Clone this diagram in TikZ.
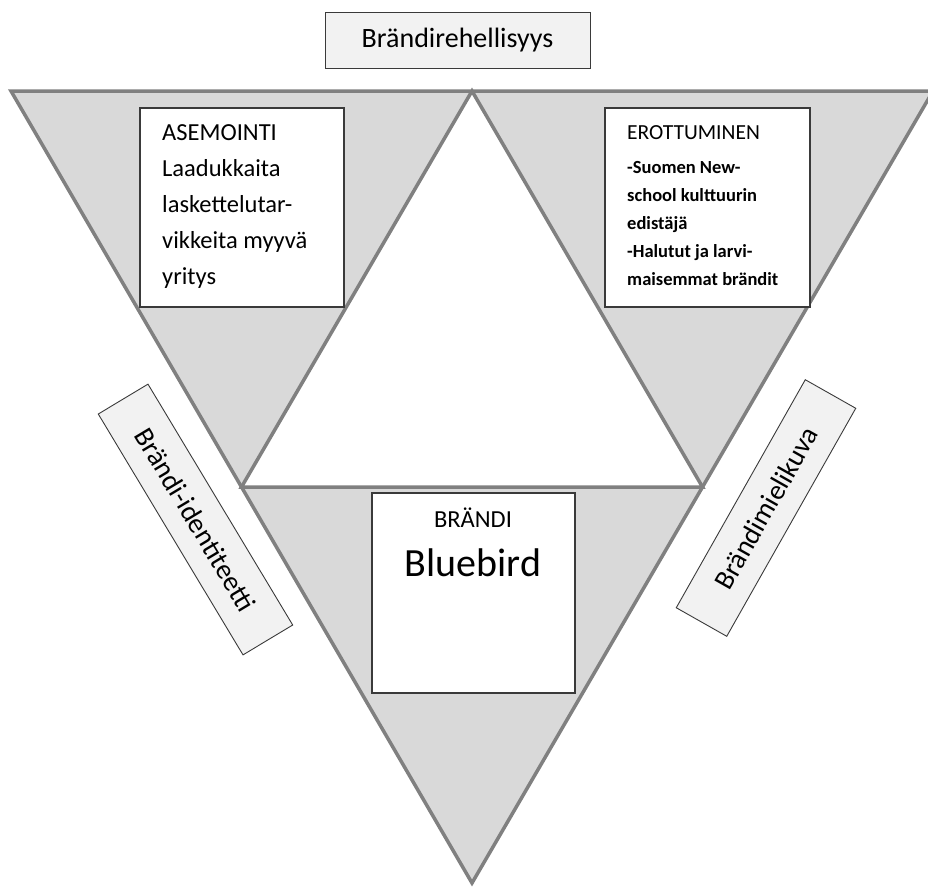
\documentclass[tikz,border=0pt]{standalone}
\usepackage{fontspec}
\setmainfont{Carlito}
\usetikzlibrary{positioning}

\definecolor{zonegray}{HTML}{D9D9D9}
\definecolor{edgegray}{HTML}{808080}
\definecolor{tagfill}{HTML}{F2F2F2}
\definecolor{boxline}{HTML}{3A3A3A}

\begin{document}
\begin{tikzpicture} [x=1pt, y=-1pt,
            zone/.style = {draw=edgegray, line width=3.5pt, fill=zonegray},
            textbox/.style = {draw=boxline, line width=1.6pt, fill=white,
                anchor=north west, inner sep=0pt},
            boxtext/.style = {anchor=north west, inner sep=0pt, align=left},
            tagbox/.style = {draw=boxline, line width=0.9pt, fill=tagfill,
                inner sep=0pt, font=\fontsize{28}{34}\selectfont}]

            \useasboundingbox (0,0) rectangle (928,887);

            % Outer triangle
            \coordinate (tl) at (11,91);
            \coordinate (tr) at (933,91);
            \coordinate (bt) at (472,883);
            \draw [zone] (tl) -- (tr) -- (bt) -- cycle;

            % Inner triangle
            \coordinate (mt) at (472,91);
            \coordinate (ml) at (241.5,487);
            \coordinate (mr) at (702.5,487);
            \draw [zone, fill=white] (mt) -- (ml) -- (mr) -- cycle;

            % Top label
            \node (rehellisyys) [tagbox,
                minimum width=265, minimum height=56] at (457.5,40) {Brändirehellisyys};

            % Positioning box
            \node (asemointi) [textbox,
                minimum width=204, minimum height=199] at (139,107) {};
            \node (asemointi text) [boxtext,
                font=\fontsize{24.5}{36}\selectfont,
                below right=17.5pt and 23pt of asemointi.north west]
                {ASEMOINTI\\Laadukkaita\\laskettelutar-\\vikkeita myyvä\\yritys};

            % Differentiation box
            \node (erottuminen) [textbox,
                minimum width=205, minimum height=199] at (604,107) {};
            \node (erottuminen text) [boxtext,
                font=\fontsize{18.5}{28}\selectfont\bfseries,
                below right=18pt and 23pt of erottuminen.north west]
                {{\mdseries\fontsize{21.5}{28}\selectfont EROTTUMINEN}\\[6pt]
                 -Suomen New-\\school kulttuurin\\edistäjä\\-Halutut ja larvi-\\maisemmat brändit};

            % Brand box
            \node (brandi) [textbox,
                minimum width=203, minimum height=200] at (371,492) {};
            \node (brandi title) [anchor=base, inner sep=0pt,
                font=\fontsize{24.5}{28}\selectfont] at (473,527) {BRÄNDI};
            \node (brandi name) [anchor=base, inner sep=0pt,
                font=\fontsize{40}{48}\selectfont] at (473,576) {Bluebird};

            % Side labels
            \node (identiteetti) [tagbox, rotate=-59,
                minimum width=281, minimum height=58] at (195.5,519.5) {Brändi-identiteetti};
            \node (mielikuva) [tagbox, rotate=60.5,
                minimum width=262, minimum height=58] at (766,508) {Brändimielikuva};
        \end{tikzpicture}
\end{document}
